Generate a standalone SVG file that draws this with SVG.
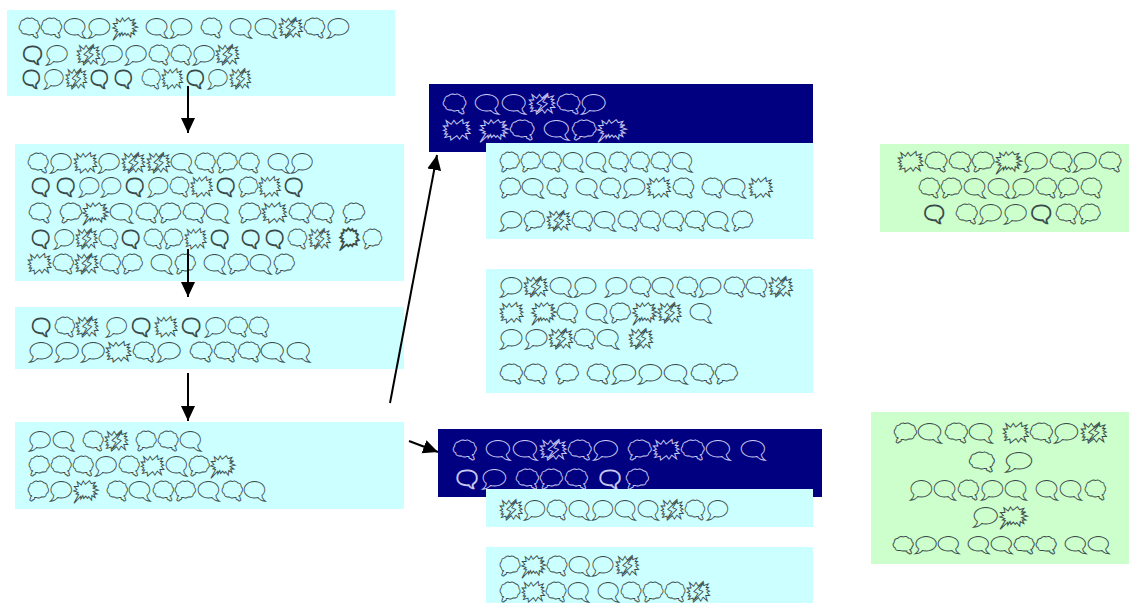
<svg xmlns="http://www.w3.org/2000/svg" width="1129" height="603" viewBox="0 0 1129 603">
<style>
.lb{fill:#ccffff}
.db{fill:#000080}
.gb{fill:#ccffcc}
text{font-family:"DejaVu Sans","Noto Sans",sans-serif;font-size:23px}
.t{fill:none;stroke:#3a4a4a;stroke-width:0.9}
.tw{fill:none;stroke:#c8c8f0;stroke-width:0.9}
.sm{font-size:20px}
.e{stroke:#000;stroke-width:2;fill:none}
</style>
<defs>
<marker id="ah" markerUnits="userSpaceOnUse" markerWidth="16" markerHeight="16" refX="15" refY="7" orient="auto"><path d="M0,0 L15,7 L0,14 Z" fill="#000"/></marker>
</defs>
<rect width="1129" height="603" fill="#fff"/>
<g id="nodeA"><rect class="lb" x="7" y="10" width="388" height="86"/>
<text class="t" x="18" y="36" textLength="332" lengthAdjust="spacingAndGlyphs">🗬🗬🗨🗩🗯 🗨🗩 🗬 🗨🗨🗱🗬🗩</text>
<text class="t" x="19" y="63" textLength="221" lengthAdjust="spacingAndGlyphs">🗨🗩 🗱🗩🗩🗬🗬🗩🗱</text>
<text class="t" x="19" y="87" textLength="232" lengthAdjust="spacingAndGlyphs">🗨🗩🗱🗨🗨 🗬🗰🗨🗩🗱</text></g>
<g id="nodeB"><rect class="lb" x="15" y="144" width="389" height="137"/>
<text class="t" x="27" y="171" textLength="287" lengthAdjust="spacingAndGlyphs">🗬🗩🗰🗩🗱🗱🗨🗬🗭🗬 🗨🗩</text>
<text class="t" x="28" y="195" textLength="278" lengthAdjust="spacingAndGlyphs">🗨🗨🗩🗩🗨🗩🗬🗰🗨🗭🗰🗨</text>
<text class="t" x="28" y="221" textLength="337" lengthAdjust="spacingAndGlyphs">🗬 🗭🗯🗨🗬🗭🗬🗨 🗭🗰🗬🗬 🗭</text>
<text class="t" x="28" y="247" textLength="354" lengthAdjust="spacingAndGlyphs">🗨🗩🗱🗬🗨🗬🗭🗰🗨 🗨🗨🗬🗱 🗯🗭</text>
<text class="t" x="27" y="272" textLength="268" lengthAdjust="spacingAndGlyphs">🗰🗬🗱🗬🗭 🗨🗭 🗨🗭🗨🗭</text></g>
<g id="nodeC"><rect class="lb" x="15" y="307" width="389" height="62"/>
<text class="t" x="28" y="335" textLength="241" lengthAdjust="spacingAndGlyphs">🗨🗬🗱 🗩🗨🗰🗨🗩🗬🗬</text>
<text class="t" x="28" y="360" textLength="284" lengthAdjust="spacingAndGlyphs">🗩🗩🗩🗰🗬🗩 🗬🗬🗬🗨🗨</text></g>
<g id="nodeD"><rect class="lb" x="15" y="422" width="389" height="87"/>
<text class="t" x="28" y="449" textLength="175" lengthAdjust="spacingAndGlyphs">🗩🗨 🗬🗱 🗭🗬🗨</text>
<text class="t" x="28" y="474" textLength="208" lengthAdjust="spacingAndGlyphs">🗭🗬🗬🗩🗬🗰🗨🗭🗯</text>
<text class="t" x="27" y="499" textLength="240" lengthAdjust="spacingAndGlyphs">🗭🗩🗯 🗬🗨🗬🗭🗨🗬🗨</text></g>
<g id="nodeE"><rect class="db" x="429" y="84" width="384" height="68"/>
<text class="tw" x="442" y="112" textLength="165" lengthAdjust="spacingAndGlyphs">🗬 🗨🗨🗱🗬🗩</text>
<text class="tw" x="442" y="138" textLength="185" lengthAdjust="spacingAndGlyphs">🗰 🗯🗬 🗨🗭🗯</text></g>
<g id="nodeE1"><rect class="lb" x="486" y="143" width="327" height="96"/>
<text class="t" x="499" y="170" textLength="195" lengthAdjust="spacingAndGlyphs">🗭🗭🗬🗨🗨🗬🗬🗬🗨</text>
<text class="t" x="499" y="196" textLength="274" lengthAdjust="spacingAndGlyphs">🗭🗨🗬 🗨🗬🗩🗰🗬 🗬🗨🗰</text>
<text class="t" x="499" y="229" textLength="254" lengthAdjust="spacingAndGlyphs">🗩🗭🗱🗬🗨🗬🗬🗬🗬🗨🗭</text></g>
<g id="nodeE2"><rect class="lb" x="486" y="269" width="327" height="124"/>
<text class="t" x="499" y="295" textLength="294" lengthAdjust="spacingAndGlyphs">🗩🗱🗨🗩 🗩🗬🗨🗬🗩🗬🗬🗱</text>
<text class="t" x="499" y="321" textLength="214" lengthAdjust="spacingAndGlyphs">🗰 🗯🗬 🗨🗭🗯🗱 🗨</text>
<text class="t" x="499" y="347" textLength="154" lengthAdjust="spacingAndGlyphs">🗩🗩🗱🗬🗨 🗱</text>
<text class="t" x="499" y="382" textLength="239" lengthAdjust="spacingAndGlyphs">🗬🗬 🗭 🗬🗩🗩🗨🗬🗭</text></g>
<g id="nodeF"><rect class="db" x="438" y="429" width="384" height="68"/>
<text class="tw" x="452" y="458" textLength="315" lengthAdjust="spacingAndGlyphs">🗬 🗨🗨🗱🗬🗩 🗭🗰🗬🗨 🗨</text>
<text class="tw" x="452" y="487" textLength="197" lengthAdjust="spacingAndGlyphs">🗨🗩 🗬🗭🗬 🗨🗭</text></g>
<g id="nodeF1"><rect class="lb" x="486" y="489" width="327" height="38"/>
<text class="t" x="499" y="518" textLength="230" lengthAdjust="spacingAndGlyphs">🗱🗩🗬🗨🗩🗨🗨🗱🗬🗩</text></g>
<g id="nodeF2"><rect class="lb" x="486" y="547" width="327" height="56"/>
<text class="t" x="499" y="574" textLength="140" lengthAdjust="spacingAndGlyphs">🗭🗯🗬🗨🗩🗱</text>
<text class="t" x="499" y="600" textLength="211" lengthAdjust="spacingAndGlyphs">🗭🗰🗬🗨 🗨🗬🗭🗬🗱</text></g>
<g id="nodeG"><rect class="gb" x="880" y="144" width="249" height="88"/>
<text class="t" x="897" y="170" textLength="225" lengthAdjust="spacingAndGlyphs">🗰🗬🗬🗭🗯🗩🗬🗩🗬</text>
<text class="t" x="918" y="196" textLength="184" lengthAdjust="spacingAndGlyphs">🗬🗭🗨🗨🗩🗬🗭🗬</text>
<text class="t" x="920" y="222" textLength="181" lengthAdjust="spacingAndGlyphs">🗨 🗬🗩🗩🗨🗬🗭</text></g>
<g id="nodeH"><rect class="gb" x="871" y="412" width="258" height="152"/>
<text class="t" x="893" y="441" textLength="214" lengthAdjust="spacingAndGlyphs">🗭🗨🗬🗨 🗰🗬🗩🗱</text>
<text class="t" x="968" y="470" textLength="65" lengthAdjust="spacingAndGlyphs">🗬 🗩</text>
<text class="t" x="909" y="498" textLength="197" lengthAdjust="spacingAndGlyphs">🗩🗨🗬🗩🗨 🗨🗨🗬</text>
<text class="t" x="972" y="525" textLength="56" lengthAdjust="spacingAndGlyphs">🗩🗯</text>
<text class="t sm" x="892" y="552" textLength="218" lengthAdjust="spacingAndGlyphs">🗬🗩🗨 🗨🗨🗬🗬 🗨🗨</text></g>
<g id="connectors">
<line class="e" x1="188" y1="86" x2="188" y2="133" marker-end="url(#ah)"/>
<line class="e" x1="188" y1="249" x2="188" y2="297" marker-end="url(#ah)"/>
<line class="e" x1="188" y1="373" x2="188" y2="421" marker-end="url(#ah)"/>
<line class="e" x1="390" y1="403" x2="437" y2="155" marker-end="url(#ah)"/>
<line class="e" x1="409" y1="441" x2="438" y2="452" marker-end="url(#ah)"/>
</g>
</svg>
